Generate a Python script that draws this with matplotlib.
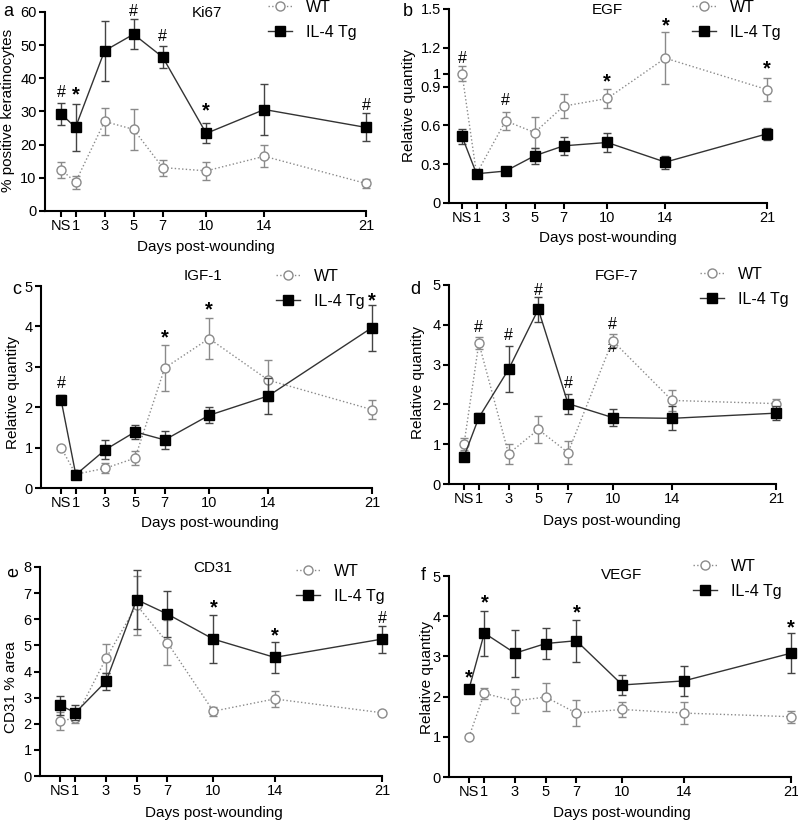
import numpy as np
import matplotlib
matplotlib.use("Agg")
from matplotlib import pyplot as plt
from matplotlib.lines import Line2D

plt.rcParams['font.family'] = ['Liberation Sans', 'DejaVu Sans']

days = [0, 1, 3, 5, 7, 10, 14, 21]
day_labels = ['NS', '1', '3', '5', '7', '10', '14', '21']

# a - Ki67
ki67_wt = [12.5, 8.7, 27.0, 24.6, 13.1, 12.1, 16.5, 8.3]
ki67_wt_err = [2.4, 2.0, 4.2, 6.2, 2.4, 2.8, 3.3, 1.4]
ki67_tg = [29.3, 25.2, 48.3, 53.3, 46.4, 23.4, 30.6, 25.2]
ki67_tg_err = [3.4, 7.2, 9.0, 4.6, 3.3, 3.0, 7.7, 4.2]
ki67_marks = [(0, 35.8, '#'), (1, 35.0, '*'), (5, 60.3, '#'), (7, 52.7, '#'), (10, 30.2, '*'), (21, 31.9, '#')]

# b - EGF
egf_wt = [1.0, 0.226, 0.635, 0.545, 0.749, 0.808, 1.12, 0.877]
egf_wt_err = [0.06, 0.0, 0.07, 0.12, 0.09, 0.07, 0.2, 0.09]
egf_tg = [0.515, 0.226, 0.247, 0.365, 0.442, 0.468, 0.316, 0.535]
egf_tg_err = [0.055, 0.01, 0.01, 0.06, 0.07, 0.076, 0.05, 0.045]
egf_marks = [(0, 1.117, '#'), (3, 0.795, '#'), (10, 0.94, '*'), (14, 1.37, '*'), (21, 1.037, '*')]

# c - IGF-1
igf_wt = [1.0, 0.34, 0.49, 0.74, 2.97, 3.70, 2.67, 1.94]
igf_wt_err = [0.0, 0.0, 0.13, 0.18, 0.56, 0.5, 0.51, 0.23]
igf_tg = [2.19, 0.33, 0.95, 1.39, 1.19, 1.80, 2.28, 3.97]
igf_tg_err = [0.12, 0.02, 0.24, 0.18, 0.23, 0.2, 0.45, 0.57]
igf_marks = [(0, 2.59, '#'), (7, 3.72, '*'), (10, 4.42, '*'), (21, 4.62, '*')]

# d - FGF-7
fgf_wt = [1.0, 3.54, 0.76, 1.37, 0.79, 3.60, 2.10, 2.02]
fgf_wt_err = [0.15, 0.15, 0.25, 0.33, 0.3, 0.16, 0.26, 0.12]
fgf_tg = [0.69, 1.67, 2.88, 4.39, 2.02, 1.67, 1.65, 1.78]
fgf_tg_err = [0.12, 0.11, 0.58, 0.32, 0.25, 0.22, 0.3, 0.17]
fgf_marks = [(1, 3.94, '#'), (3, 3.74, '#'), (5, 4.87, '#'), (7, 2.53, '#'), (10, 4.01, '#'), (10, 3.44, '#')]

# e - CD31
cd31_wt = [2.11, 2.21, 4.50, 6.54, 5.11, 2.48, 2.95, 2.42]
cd31_wt_err = [0.34, 0.17, 0.55, 1.13, 0.87, 0.17, 0.32, 0.0]
cd31_tg = [2.71, 2.42, 3.62, 6.75, 6.20, 5.24, 4.54, 5.24]
cd31_tg_err = [0.37, 0.28, 0.34, 1.12, 0.87, 0.91, 0.59, 0.52]
cd31_marks = [(10, 6.45, '*'), (14, 5.37, '*'), (21, 6.01, '#')]

# f - VEGF
vegf_wt = [1.0, 2.08, 1.89, 1.99, 1.59, 1.68, 1.59, 1.50]
vegf_wt_err = [0.0, 0.14, 0.29, 0.36, 0.32, 0.19, 0.28, 0.15]
vegf_tg = [2.19, 3.58, 3.08, 3.32, 3.39, 2.29, 2.39, 3.08]
vegf_tg_err = [0.0, 0.56, 0.58, 0.38, 0.52, 0.25, 0.37, 0.5]
vegf_marks = [(0, 2.47, '*'), (1, 4.32, '*'), (7, 4.09, '*'), (21, 3.70, '*')]

W, H = 798, 821
fig = plt.figure(figsize=(W / 100, H / 100), dpi=100)
fs = 10.5


def fx(x):
    return x / W


def fy(y):
    return 1 - y / H


def panel(box, wt, wt_err, tg, tg_err, marks, ymax, yticks, ytick_labels):
    left, x0, x21, top, bottom = box
    scale = (x21 - x0) / 21.0
    xmin = (left - x0) / scale
    ax = fig.add_axes([fx(left), fy(bottom), (x21 - left) / W, (bottom - top) / H])
    ax.errorbar(days, wt, yerr=wt_err, color='#8a8a8a', ls=':', lw=1.0, marker='o', ms=6.5,
                mfc='white', mec='#8a8a8a', mew=1.0, capsize=3, elinewidth=1.0, ecolor='#8a8a8a',
                clip_on=False, zorder=3)
    ax.errorbar(days, tg, yerr=tg_err, color='#333333', ls='-', lw=1.0, marker='s', ms=7,
                mfc='black', mec='black', capsize=3, elinewidth=1.0, ecolor='#444444',
                clip_on=False, zorder=4)
    for d, v, s in marks:
        if s == '*':
            ax.text(d, v, s, ha='center', va='center', fontsize=fs + 4, fontweight='bold')
        else:
            ax.text(d, v, s, ha='center', va='center', fontsize=fs + 1)
    ax.set_xlim(xmin, 21)
    ax.set_ylim(0, ymax)
    ax.set_xticks(days)
    ax.set_xticklabels(day_labels, fontsize=fs)
    ax.set_yticks(yticks)
    ax.set_yticklabels(ytick_labels, fontsize=fs)
    for s in ['top', 'right']:
        ax.spines[s].set_visible(False)
    for s in ['left', 'bottom']:
        ax.spines[s].set_linewidth(1.5)
    ax.tick_params(width=1.5, length=4, pad=2)
    ax.patch.set_alpha(0)
    return ax


def legend(ax, x, y):
    handles = [Line2D([], [], color='#8a8a8a', ls=':', lw=1.0, marker='o', ms=6.5, mfc='white', mec='#8a8a8a'),
               Line2D([], [], color='#333333', ls='-', lw=1.0, marker='s', ms=7, mfc='black', mec='black')]
    ax.legend(handles, ['WT', 'IL-4 Tg'], loc='upper left', bbox_to_anchor=(fx(x), fy(y)),
              bbox_transform=fig.transFigure, frameon=False, borderpad=0, borderaxespad=0,
              handlelength=1.5, handletextpad=0.9, labelspacing=0.6, fontsize=fs + 1)


def labels(letter, lx, ly, title, tx, ty, ylab, yx, yy, xx, xy, letter_rot=0):
    fig.text(fx(lx), fy(ly), letter, ha='center', va='center', fontsize=fs + 2.5, rotation=letter_rot)
    fig.text(fx(tx), fy(ty), title, ha='center', va='center', fontsize=fs + 0.5)
    fig.text(fx(yx), fy(yy), ylab, ha='center', va='center', rotation=90, fontsize=fs + 0.5)
    fig.text(fx(xx), fy(xy), 'Days post-wounding', ha='center', va='center', fontsize=fs + 0.5)


ax = panel((45, 61, 366, 12, 211), ki67_wt, ki67_wt_err, ki67_tg, ki67_tg_err, ki67_marks,
           60, [0, 10, 20, 30, 40, 50, 60], ['0', '10', '20', '30', '40', '50', '60'])
legend(ax, 268, 0)
labels('a', 8, 12, 'Ki67', 207, 13, '% positive keratinocytes', 8, 110, 206, 247)

ax = panel((449, 462, 767, 9, 203), egf_wt, egf_wt_err, egf_tg, egf_tg_err, egf_marks,
           1.5, [0, 0.3, 0.6, 0.9, 1.0, 1.2, 1.5], ['0', '0.3', '0.6', '0.9', '1', '1.2', '1.5'])
legend(ax, 692, 0)
labels('b', 408, 12, 'EGF', 607, 10, 'Relative quantity', 409, 106, 608, 238)

ax = panel((41, 61, 372, 286, 488), igf_wt, igf_wt_err, igf_tg, igf_tg_err, igf_marks,
           5, [0, 1, 2, 3, 4, 5], ['0', '1', '2', '3', '4', '5'])
legend(ax, 276, 269)
labels('c', 17, 290, 'IGF-1', 203, 276, 'Relative quantity', 13, 392, 210, 523)

ax = panel((449, 464, 776, 285, 484), fgf_wt, fgf_wt_err, fgf_tg, fgf_tg_err, fgf_marks,
           5, [0, 1, 2, 3, 4, 5], ['0', '1', '2', '3', '4', '5'])
legend(ax, 700, 267)
labels('d', 415, 289, 'FGF-7', 617, 276, 'Relative quantity', 418, 382, 612, 521)

ax = panel((40, 60, 382, 567, 776), cd31_wt, cd31_wt_err, cd31_tg, cd31_tg_err, cd31_marks,
           8, [0, 1, 2, 3, 4, 5, 6, 7, 8], ['0', '1', '2', '3', '4', '5', '6', '7', '8'])
legend(ax, 296, 564)
labels('e', 14, 572, 'CD31', 213, 568, 'CD31 % area', 11, 687, 214, 813, letter_rot=90)

ax = panel((449, 469, 791, 576, 777), vegf_wt, vegf_wt_err, vegf_tg, vegf_tg_err, vegf_marks,
           5, [0, 1, 2, 3, 4, 5], ['0', '1', '2', '3', '4', '5'])
legend(ax, 693, 559)
labels('f', 423, 575, 'VEGF', 622, 575, 'Relative quantity', 427, 677, 622, 813)

fig.savefig('out.png', dpi=100)
